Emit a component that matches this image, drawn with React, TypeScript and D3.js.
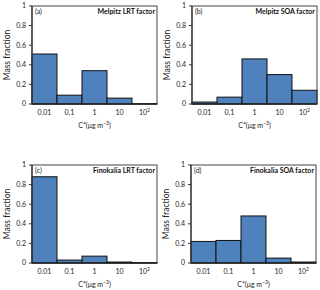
import React from 'react';
import * as d3 from 'd3';

const bins = ['0.01', '0.1', '1', '10', '100'];
const yTicks = [0, 0.2, 0.4, 0.6, 0.8, 1];

const melpitzLRT = [0.51, 0.09, 0.34, 0.06, 0.003];
const melpitzSOA = [0.02, 0.07, 0.46, 0.30, 0.14];
const finokaliaLRT = [0.88, 0.03, 0.07, 0.01, 0.004];
const finokaliaSOA = [0.22, 0.23, 0.48, 0.05, 0.01];

const panels = [
  { tag: '(a)', title: 'Melpitz  LRT factor', values: melpitzLRT, left: 32, top: 6 },
  { tag: '(b)', title: 'Melpitz  SOA factor', values: melpitzSOA, left: 192, top: 6 },
  { tag: '(c)', title: 'Finokalia  LRT factor', values: finokaliaLRT, left: 32, top: 165 },
  { tag: '(d)', title: 'Finokalia  SOA factor', values: finokaliaSOA, left: 191, top: 165 },
];

const W = 125;
const H = 98;
const font = 'Lato, "Open Sans", sans-serif';

const Panel = ({ p }) => {
  const x = d3.scaleBand().domain(bins).range([0, W]).padding(0);
  const y = d3.scaleLinear().domain([0, 1]).range([H, 0]);
  return (
    <g transform={`translate(${p.left},${p.top})`} fontFamily={font}>
      {p.values.map((v, i) => (
        <rect key={i} x={x(bins[i])} y={y(v)} width={x.bandwidth()} height={H - y(v)}
          fill="#4f81bd" stroke="#111" strokeWidth={1} />
      ))}
      <rect x={0} y={0} width={W} height={H} fill="none" stroke="#444" strokeWidth={1} />
      <line x1={0} x2={W} y1={H} y2={H} stroke="#111" strokeWidth={1.2} />
      <line x1={0} x2={0} y1={0} y2={H} stroke="#333" strokeWidth={1.2} />
      {yTicks.map(t => (
        <g key={t}>
          <line x1={-3} x2={0} y1={y(t)} y2={y(t)} stroke="#333" />
          <text x={-6} y={y(t)} dy="0.35em" textAnchor="end" fontSize={7} fill="#222">{t}</text>
        </g>
      ))}
      {bins.map(b => (
        <text key={b} x={x(b) + x.bandwidth() / 2} y={H + 11} textAnchor="middle" fontSize={7} fill="#222">
          {b === '100' ? <>10<tspan dy={-3} fontSize={5}>2</tspan></> : b}
        </text>
      ))}
      <text x={W / 2} y={H + 24} textAnchor="middle" fontSize={7} fill="#222">
        C*(μg m<tspan dy={-3} fontSize={5}>−3</tspan><tspan dy={3}>)</tspan>
      </text>
      <text transform={`translate(${-22},${H / 2}) rotate(-90)`} textAnchor="middle" fontSize={8.5} fill="#222">
        Mass fraction
      </text>
      <text x={3} y={8} fontSize={7} fill="#222">{p.tag}</text>
      <text x={W - 2} y={8} textAnchor="end" fontSize={7} fontWeight="bold" fill="#111">{p.title}</text>
    </g>
  );
};

export default function App() {
  return (
    <svg width={320} height={290} style={{ position: 'absolute', left: 0, top: 0 }}>
      <rect width={320} height={290} fill="#fff" />
      {panels.map(p => <Panel key={p.tag} p={p} />)}
    </svg>
  );
}
